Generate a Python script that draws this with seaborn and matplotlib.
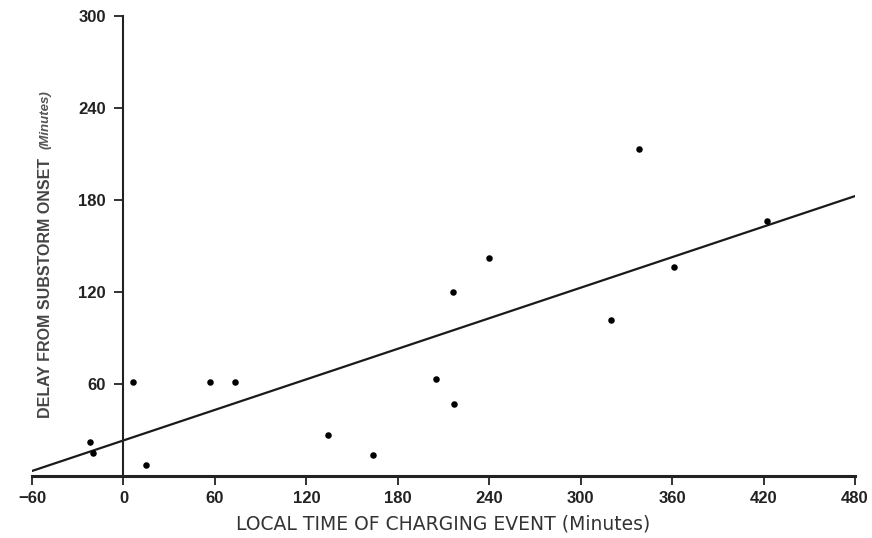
import matplotlib
matplotlib.use("Agg")
import matplotlib.pyplot as plt
import seaborn as sns
import pandas as pd
import numpy as np

local_time = [-22, -20, 6, 15, 57, 73, 134, 164, 205, 217, 216, 240, 320, 338, 361, 422]
delay = [22, 15, 61, 7, 61, 61, 27, 14, 63, 47, 120, 142, 102, 213, 136, 166]

# straight-line fit as drawn in the figure
fit_slope = 0.332
fit_intercept = 23.2

x_ticks = [-60, 0, 60, 120, 180, 240, 300, 360, 420, 480]
y_ticks = [60, 120, 180, 240, 300]

sns.set_style("white")
plt.rcParams["font.family"] = ["Liberation Sans", "DejaVu Sans"]

df = pd.DataFrame({"lt": local_time, "delay": delay})

fig = plt.figure(figsize=(8.72, 5.38), dpi=100)
ax = fig.add_axes([32 / 872, 1 - 476 / 538, 823 / 872, 460 / 538])

sns.scatterplot(data=df, x="lt", y="delay", color="black", s=22,
                edgecolor="black", linewidth=0, ax=ax, clip_on=False, zorder=3)

fit_x = np.array([x_ticks[0], x_ticks[-1]])
fit_df = pd.DataFrame({"x": fit_x, "y": fit_intercept + fit_slope * fit_x})
sns.lineplot(data=fit_df, x="x", y="y", color="#1a1a1a", linewidth=1.6, ax=ax)

ax.set_xlim(-60, 480)
ax.set_ylim(0, 300)

# axes drawn as in the original: y axis through x = 0
for s in ["top", "right"]:
    ax.spines[s].set_visible(False)
ax.spines["left"].set_position(("data", 0))
ax.spines["left"].set_linewidth(1.5)
ax.spines["bottom"].set_linewidth(2.2)
ax.spines["left"].set_color("#222222")
ax.spines["bottom"].set_color("#222222")

ax.set_xticks(x_ticks)
ax.set_yticks(y_ticks)
ax.tick_params(axis="both", direction="out", length=6.5, width=1.3,
               color="#222222", labelsize=12, labelcolor="#222222", pad=4,
               left=True, bottom=True)
ax.tick_params(axis="y", pad=6)
for lab in ax.get_xticklabels() + ax.get_yticklabels():
    lab.set_fontweight("bold")

ax.set_xlabel("")
ax.set_ylabel("")

fig.text(443 / 872, 1 - 524 / 538, "LOCAL TIME OF CHARGING EVENT (Minutes)",
         ha="center", va="center", fontsize=13.5, color="#333333",
         family=["DejaVu Sans"])
fig.text(46 / 872, 1 - 288 / 538, "DELAY FROM SUBSTORM ONSET",
         rotation=90, ha="center", va="center", fontsize=11.5,
         fontweight="bold", color="#444444")
fig.text(46 / 872, 1 - 120 / 538, "(Minutes)",
         rotation=90, ha="center", va="center", fontsize=9.5,
         fontstyle="italic", fontweight="bold", color="#555555")

fig.savefig("out.png", dpi=100)
